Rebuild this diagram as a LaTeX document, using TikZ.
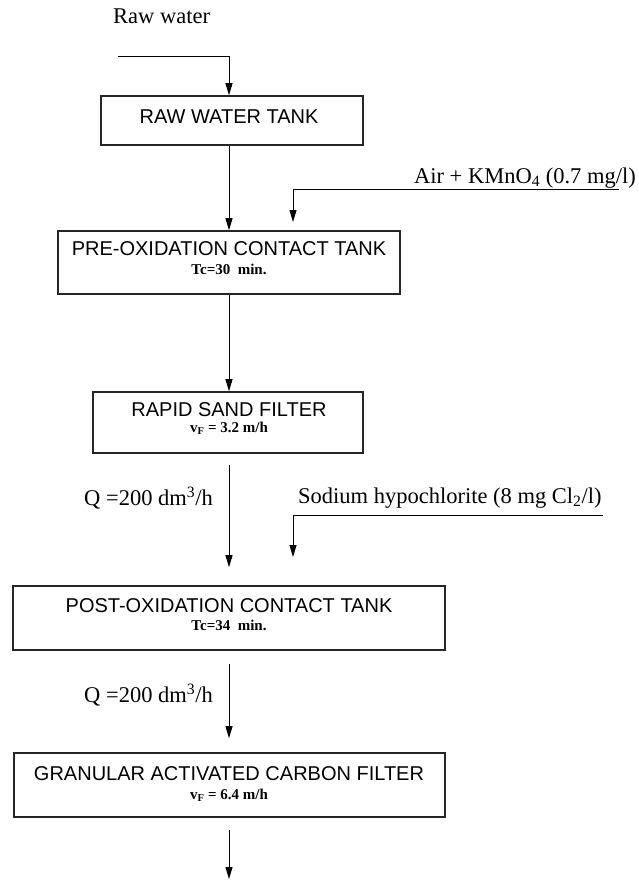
\documentclass[tikz,border=0pt]{standalone}
\usepackage{fontspec}
\setmainfont{Liberation Serif}
\newfontfamily\arial{Liberation Sans}
\usetikzlibrary{arrows.meta}
\tikzset{
  box/.style={draw=black!85, line width=1.6pt, rectangle, inner sep=0pt},
  head/.style={anchor=base, inner sep=0pt, font=\arial\fontsize{20}{22}\selectfont},
  sub/.style={anchor=base, inner sep=0pt, font=\fontsize{15}{17}\selectfont\bfseries},
  lbl/.style={inner sep=0pt, font=\fontsize{22.5}{25}\selectfont},
  flow/.style={line width=1pt, -{Triangle[length=12pt,width=7pt]}},
}
\begin{document}
\begin{tikzpicture}[x=1pt,y=-1pt]
\useasboundingbox (0,0) rectangle (638,884);
\coordinate (axis) at (229,0);

% boxes
\node[box, minimum width=262pt, minimum height=49pt] (b1) at (232,120.5) {};
\node[box, minimum width=342pt, minimum height=63pt] (b2) at (229,262.5) {};
\node[box, minimum width=270pt, minimum height=61pt] (b3) at (228,422.5) {};
\node[box, minimum width=432pt, minimum height=64pt] (b4) at (229,618) {};
\node[box, minimum width=431pt, minimum height=64pt] (b5) at (229.5,785) {};

% box texts
\node[head] (t1) at (229,123) {RAW WATER TANK};
\node[head] (t2) at (229,255) {PRE-OXIDATION CONTACT TANK};
\node[sub] (s2) at (229,274) {Tc=30\ \ min.};
\node[head] (t3) at (229,416) {RAPID SAND FILTER};
\node[sub] (s3) at (229,432) {v\textsubscript{F} = 3.2 m/h};
\node[head] (t4) at (229,612) {POST-OXIDATION CONTACT TANK};
\node[sub] (s4) at (229,630) {Tc=34\ \ min.};
\node[head] (t5) at (229,780) {GRANULAR ACTIVATED CARBON FILTER};
\node[sub] (s5) at (229,799) {v\textsubscript{F} = 6.4 m/h};

% labels
\node[lbl, anchor=base west] (lraw) at (113,23) {Raw water};
\node[lbl, anchor=base east] (lair) at (636,183) {Air + KMnO\textsubscript{4} (0.7 mg/l)};
\node[lbl, anchor=base west] (lna) at (298,503) {Sodium hypochlorite (8 mg Cl\textsubscript{2}/l)};
\node[lbl, anchor=base east] (lq1) at (213,505) {Q =200\ dm\textsuperscript{3}/h};
\node[lbl, anchor=base east] (lq2) at (213,702) {Q =200\ dm\textsuperscript{3}/h};

% connector end points
\coordinate (rw) at (118,56);
\coordinate (air) at (619,189);
\coordinate (airend) at (293,222);
\coordinate (na) at (603,515);
\coordinate (naend) at (293,557);
\coordinate (out) at (229,879);

% connectors
\draw[flow] (rw) -| (b1.north -| axis);
\draw[flow] (b1.south -| axis) -- (b2.north -| axis);
\draw[flow] (air) -| (airend);
\draw[flow] (b2.south -| axis) -- (b3.north -| axis);
\draw[flow] ([yshift=-11pt]b3.south -| axis) -- ([yshift=18pt]b4.north -| axis);
\draw[flow] (na) -| (naend);
\draw[flow] ([yshift=-13pt]b4.south -| axis) -- ([yshift=14pt]b5.north -| axis);
\draw[flow] ([yshift=-12pt]b5.south -| axis) -- (out);
\end{tikzpicture}
\end{document}
